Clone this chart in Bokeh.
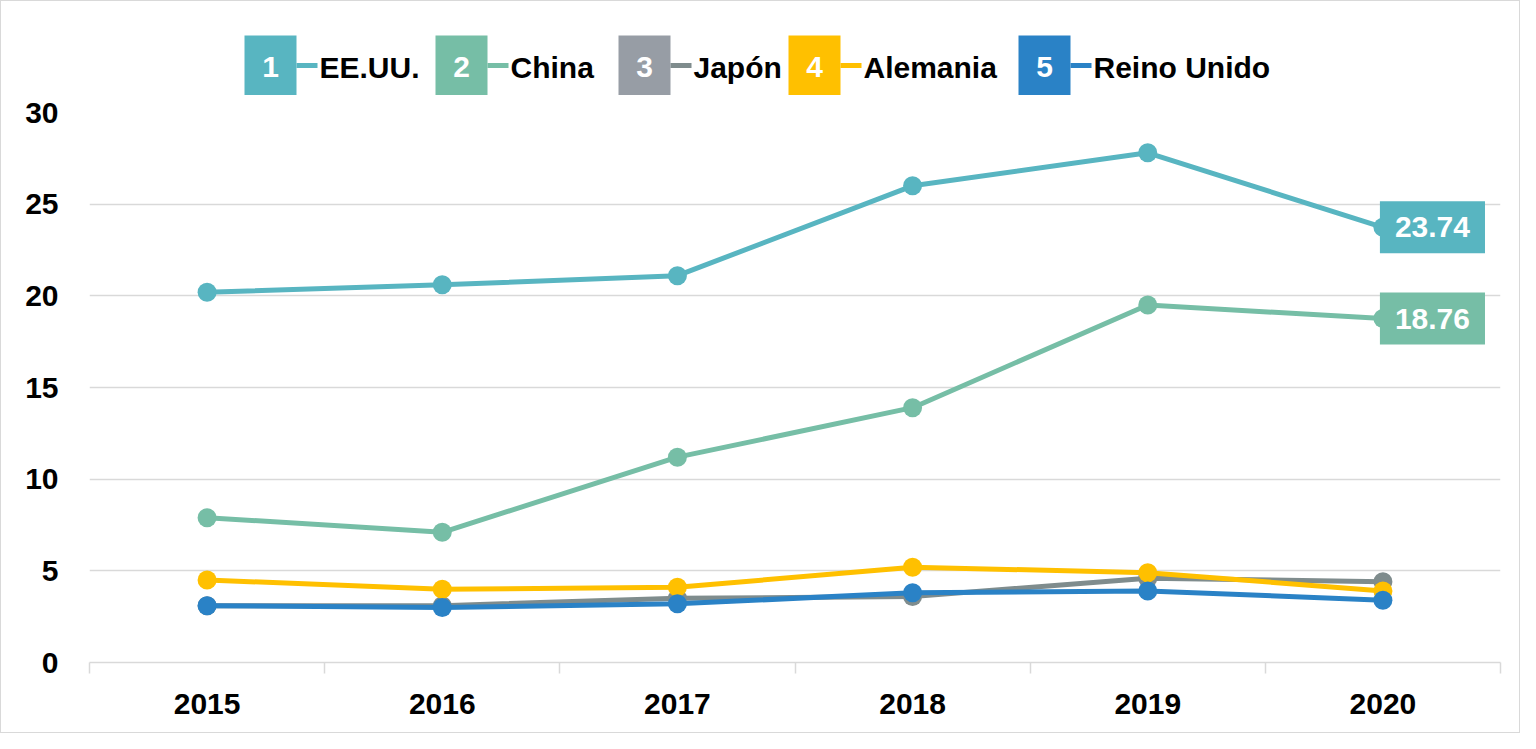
from bokeh.plotting import figure
from bokeh.layouts import column
from bokeh.models import Range1d, FixedTicker, Label, ColumnDataSource
from bokeh.core.properties import value
from bokeh.embed import file_html
from bokeh.resources import INLINE

# ---------------- data ----------------
years = ["2015", "2016", "2017", "2018", "2019", "2020"]
ee_uu = [20.2, 20.6, 21.1, 26.0, 27.8, 23.74]
china = [7.9, 7.1, 11.2, 13.9, 19.5, 18.76]
japon = [3.1, 3.1, 3.5, 3.6, 4.6, 4.4]
alemania = [4.5, 4.0, 4.1, 5.2, 4.9, 3.9]
reino_unido = [3.1, 3.0, 3.2, 3.8, 3.9, 3.4]
series_names = ["EE.UU.", "China", "Japón", "Alemania", "Reino Unido"]
y_ticks = [0, 5, 10, 15, 20, 25, 30]

# ---------------- style ----------------
FONT = "Liberation Sans"
FS = "30px"
line_colors = ["#58B5C1", "#76BEA6", "#7F8C8D", "#FFC000", "#2A82C6"]
box_colors = ["#58B5C1", "#76BEA6", "#979DA5", "#FFC000", "#2A82C6"]
GRID = "#d9d9d9"

all_series = [ee_uu, china, japon, alemania, reino_unido]
xs = [i + 0.5 for i in range(len(years))]

W = 1518
BL, BR = 88, 19          # left / right borders (frame spans page x 97..1508)
FRAME_L, FRAME_R = 9 + BL, 9 + W - BR

# ---------------- legend strip ----------------
LEG_H = 94
leg = figure(width=W, height=LEG_H, x_range=Range1d(FRAME_L, FRAME_R), y_range=Range1d(9 + LEG_H, 9),
             output_backend="svg", toolbar_location=None,
             min_border_left=BL, min_border_right=BR, min_border_top=0, min_border_bottom=0)
leg.axis.visible = False
leg.grid.visible = False
leg.outline_line_color = None

box_left = [252, 443, 626, 796, 1026]
BOX_W, BOX_H, BOX_Y = 52, 60, 73
box_cx = [b + BOX_W / 2 for b in box_left]
box_right = [b + BOX_W for b in box_left]
text_x = [b + 23 for b in box_right]

leg.rect(x=box_cx, y=BOX_Y, width=BOX_W, height=BOX_H, fill_color=box_colors, line_color=None)
leg.segment(x0=box_right, y0=BOX_Y, x1=[t - 2 for t in text_x], y1=BOX_Y,
            line_color=line_colors, line_width=5)
leg.text(x=box_cx, y=BOX_Y + 1, text=[str(i + 1) for i in range(len(series_names))],
         text_font=value(FONT), text_font_style="bold", text_font_size=FS,
         text_color="white", text_align="center", text_baseline="middle")
leg.text(x=text_x, y=BOX_Y + 2, text=series_names,
         text_font=value(FONT), text_font_style="bold", text_font_size=FS,
         text_color="black", text_align="left", text_baseline="middle")

# ---------------- main chart ----------------
MAIN_H = 733 - 2 - LEG_H
p = figure(width=W, height=MAIN_H, x_range=Range1d(0, len(years)), y_range=Range1d(0, 30),
           output_backend="svg", toolbar_location=None,
           min_border_left=BL, min_border_right=BR, min_border_top=120 - 9 - LEG_H,
           min_border_bottom=70)
p.outline_line_color = None
p.xgrid.grid_line_color = None
p.ygrid.grid_line_color = GRID
p.ygrid.grid_line_width = 1.5
p.ygrid.ticker = FixedTicker(ticks=y_ticks)

p.xaxis.ticker = FixedTicker(ticks=xs, minor_ticks=list(range(len(years) + 1)))
p.xaxis.major_label_overrides = {x: y for x, y in zip(xs, years)}
p.xaxis.axis_line_color = GRID
p.xaxis.axis_line_width = 1.5
p.xaxis.major_tick_line_color = None
p.xaxis.major_tick_out = 0
p.xaxis.major_tick_in = 0
p.xaxis.minor_tick_line_color = GRID
p.xaxis.minor_tick_line_width = 1.5
p.xaxis.minor_tick_out = 11
p.xaxis.minor_tick_in = 0
p.xaxis.major_label_standoff = 20
p.xaxis.major_label_text_font = FONT
p.xaxis.major_label_text_font_style = "bold"
p.xaxis.major_label_text_font_size = FS
p.xaxis.major_label_text_color = "black"

p.yaxis.ticker = FixedTicker(ticks=y_ticks)
p.yaxis.axis_line_color = None
p.yaxis.major_tick_line_color = None
p.yaxis.minor_tick_line_color = None
p.yaxis.major_tick_out = 0
p.yaxis.major_tick_in = 0
p.yaxis.major_label_standoff = 31
p.yaxis.major_label_text_font = FONT
p.yaxis.major_label_text_font_style = "bold"
p.yaxis.major_label_text_font_size = FS
p.yaxis.major_label_text_color = "black"

for vals, col in zip(all_series, line_colors):
    src = ColumnDataSource(dict(x=xs, y=vals))
    p.line("x", "y", source=src, line_color=col, line_width=5)
    p.scatter("x", "y", source=src, marker="circle", size=19, fill_color=col, line_color=None)

for vals, col in [(ee_uu, line_colors[0]), (china, line_colors[1])]:
    lab = Label(x=xs[-1], y=vals[-1], text=f"{vals[-1]:.2f}", x_offset=-3,
                text_align="left", text_baseline="middle",
                text_font=FONT, text_font_style="bold", text_font_size=FS, text_color="white",
                background_fill_color=col, background_fill_alpha=1.0,
                padding=dict(left=15, right=15, top=16, bottom=16))
    p.add_layout(lab)

layout = column(leg, p, spacing=0, styles={"border": "1px solid #d9d9d9"})

open("out.html", "w").write(file_html(layout, INLINE))
